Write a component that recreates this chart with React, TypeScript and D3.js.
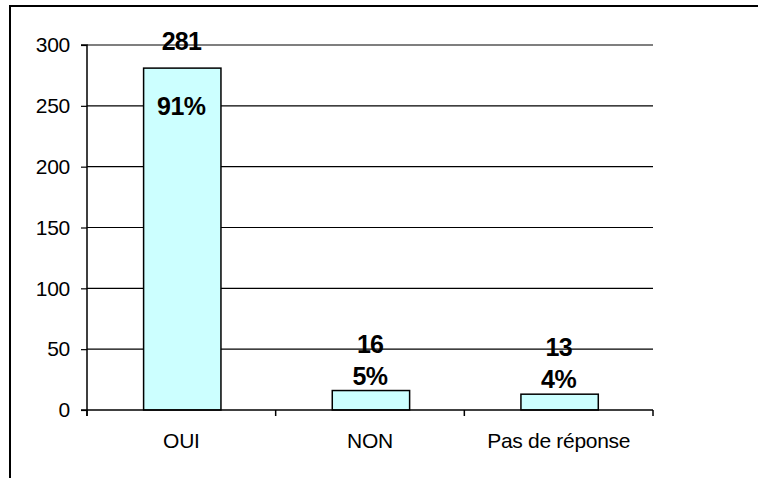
import React, { useEffect, useRef } from "react";
import * as d3 from "d3";

const categories = ["OUI", "NON", "Pas de réponse"];
const counts = [281, 16, 13];
const yTicks = [0, 50, 100, 150, 200, 250, 300];

const App = () => {
  const svgRef = useRef<SVGSVGElement>(null);

  useEffect(() => {
    const svg = d3.select(svgRef.current);
    svg.selectAll("*").remove();

    const width = 758, height = 478;
    const left = 87, right = 653, top = 45, bottom = 410;
    const font = "Arial, 'Liberation Sans', sans-serif";

    // outer frame (right and bottom edges fall outside the picture)
    svg.append("rect")
      .attr("x", 10).attr("y", 6)
      .attr("width", width + 20).attr("height", height + 20)
      .attr("fill", "white").attr("stroke", "black").attr("stroke-width", 2);

    const x = d3.scaleBand().domain(categories).range([left, right]).paddingInner(0).paddingOuter(0);
    const y = d3.scaleLinear().domain([0, 300]).range([bottom, top]);
    const total = d3.sum(counts);

    // gridlines
    svg.append("g").selectAll("line")
      .data(yTicks.filter(t => t > 0))
      .join("line")
      .attr("x1", left).attr("x2", right)
      .attr("y1", d => y(d)).attr("y2", d => y(d))
      .attr("stroke", "black").attr("stroke-width", 1.2);

    // y axis
    const yAxis = d3.axisLeft(y).tickValues(yTicks).tickSize(6).tickPadding(11);
    const gy = svg.append("g").attr("transform", `translate(${left},0)`).call(yAxis);
    gy.select(".domain").attr("stroke-width", 1.5).attr("d", `M-6,${top}H0V${bottom + 6}`);
    gy.selectAll("line").attr("stroke-width", 1.2);
    gy.selectAll("text").attr("font-family", font).attr("font-size", 21)
      .attr("letter-spacing", -0.3).attr("fill", "black");

    // bars
    svg.append("g").selectAll("rect")
      .data(counts)
      .join("rect")
      .attr("x", (d, i) => x(categories[i])! + x.bandwidth() * 0.3)
      .attr("width", x.bandwidth() * 0.41)
      .attr("y", d => y(d))
      .attr("height", d => bottom - y(d))
      .attr("fill", "#CCFFFF")
      .attr("stroke", "black").attr("stroke-width", 1.5);

    // x axis
    const gx = svg.append("g").attr("transform", `translate(0,${bottom})`);
    gx.append("line").attr("x1", left - 6).attr("x2", right)
      .attr("stroke", "black").attr("stroke-width", 1.5);
    const bounds = [left, ...categories.map(c => x(c)! + x.bandwidth())];
    gx.selectAll("line.tick")
      .data(bounds)
      .join("line")
      .attr("class", "tick")
      .attr("x1", d => d).attr("x2", d => d)
      .attr("y1", 0).attr("y2", 6)
      .attr("stroke", "black").attr("stroke-width", 1.5);
    gx.selectAll("text")
      .data(categories)
      .join("text")
      .attr("x", d => x(d)! + x.bandwidth() / 2)
      .attr("y", 38)
      .attr("text-anchor", "middle")
      .attr("font-family", font).attr("font-size", 21).attr("letter-spacing", -0.3)
      .text(d => d);

    // data labels
    const labels = svg.append("g")
      .attr("font-family", font).attr("font-size", 25).attr("font-weight", "bold")
      .attr("text-anchor", "middle");
    counts.forEach((v, i) => {
      const cx = x(categories[i])! + x.bandwidth() / 2;
      const barTop = y(v);
      const tall = barTop - 38 < top;
      const countY = tall ? top + 5 : barTop - 38;
      const pctY = tall ? barTop + 47 : barTop - 6;
      labels.append("text").attr("x", cx).attr("y", countY).attr("letter-spacing", -0.8).text(v);
      labels.append("text").attr("x", cx).attr("y", pctY).attr("letter-spacing", -0.5)
        .text(`${Math.round((v / total) * 100)}%`);
    });
  }, []);

  return (
    <svg ref={svgRef} width={758} height={478}
      style={{ position: "absolute", left: 0, top: 0, background: "white" }} />
  );
};

export default App;
